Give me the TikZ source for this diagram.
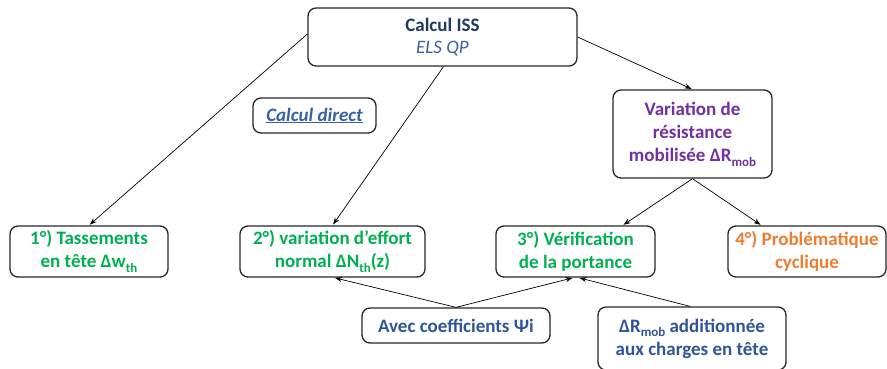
\documentclass[tikz,border=0pt]{standalone}
\usepackage{fontspec}
\setmainfont{Carlito}
\usetikzlibrary{arrows.meta,calc}
\definecolor{navy}{HTML}{1F3864}
\definecolor{midblue}{HTML}{2F5597}
\definecolor{lblue}{HTML}{3760A8}
\definecolor{purp}{HTML}{7030A0}
\definecolor{grn}{HTML}{00B050}
\definecolor{orng}{HTML}{ED7D31}
\newcommand{\mysub}[1]{\raisebox{-0.25em}{\fontsize{13}{13}\selectfont #1}}
\tikzset{
  box/.style={draw=black!85, line width=1.3pt, rounded corners=8pt, align=center,
    font=\fontsize{19}{23}\selectfont\bfseries, inner sep=0pt, anchor=center},
  conn/.style={line width=0.7pt, -{Stealth[length=7pt,width=5pt]}, shorten >=1pt}
}
\begin{document}
\begin{tikzpicture}[x=1pt,y=-1pt]
\useasboundingbox (0,0) rectangle (887,368);
\node[box, minimum width=269pt, minimum height=58pt] (top) at (442.5,37)
  {\textcolor{navy}{Calcul ISS}\\[-1pt]\textcolor{lblue}{\mdseries\itshape ELS QP}};
\node[box, minimum width=123pt, minimum height=35pt] (direct) at (314.5,115.5)
  {\textcolor{lblue}{\itshape\underline{Calcul direct}}};
\node[box, minimum width=159pt, minimum height=88pt, text=purp] (var) at (692.5,134)
  {Variation de\\résistance\\mobilisée ΔR\mysub{mob}};
\node[box, minimum width=158pt, minimum height=51pt, text=grn] (b1) at (89,251.5)
  {1°) Tassements\\en tête Δw\mysub{th}};
\node[box, minimum width=185pt, minimum height=51pt, text=grn] (b2) at (332.5,251.5)
  {2°) variation d’effort\\normal ΔN\mysub{th}(z)};
\node[box, minimum width=159pt, minimum height=51pt, text=grn] (b3) at (575.5,251.5)
  {3°) Vérification\\de la portance};
\node[box, minimum width=158pt, minimum height=51pt, text=orng] (b4) at (807,251.5)
  {4°) Problématique\\cyclique};
\node[box, minimum width=188pt, minimum height=35pt, text=midblue] (avec) at (456,325.5)
  {Avec coefficients Ψi};
\node[box, minimum width=188pt, minimum height=63pt, text=midblue] (dr) at (692,338.5)
  {ΔR\mysub{mob} additionnée\\aux charges en tête};
\draw[conn] ([yshift=3pt]top.west) -- (b1.north);
\draw[conn] ([xshift=1pt]top.south) -- (b2.north);
\draw[conn] (top.east) -- (var.north);
\draw[conn] (var.south) -- ([xshift=-33pt]b3.north east);
\draw[conn] (var.south) -- ([xshift=34pt]b4.north west);
\draw[conn] (avec.north) -- ([xshift=1.5pt]b2.south);
\draw[conn] (avec.north) -- ([xshift=-2pt]b3.south);
\draw[conn] ([xshift=-2pt]dr.north) -- ([xshift=3pt]b3.south);
\end{tikzpicture}
\end{document}
